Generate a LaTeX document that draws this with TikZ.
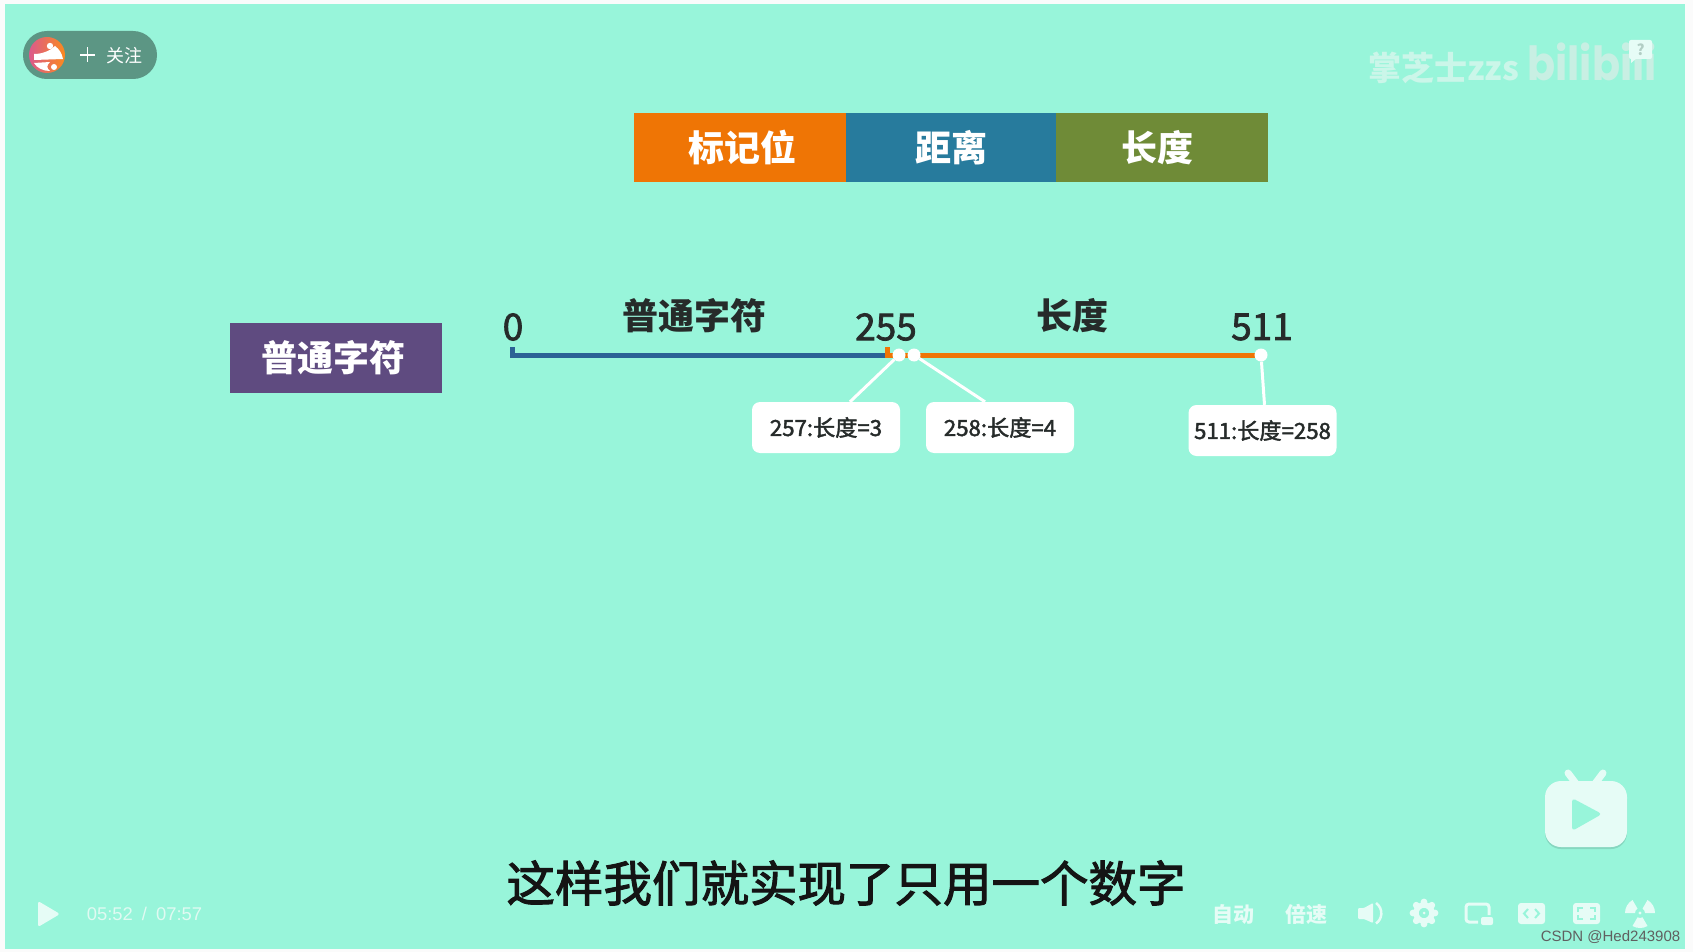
\documentclass[tikz,border=0pt]{standalone}
\usetikzlibrary{calc}
\usepackage{fontspec}
\setmainfont{Noto Sans CJK SC}
\newfontfamily\latinf{Liberation Sans}
\newfontfamily\popf{Poppins}
\newfontfamily\midf[FakeBold=2]{Noto Sans CJK SC}
\definecolor{mint}{HTML}{98F5DA}
\definecolor{paper}{HTML}{FBFBFB}
\definecolor{pale}{HTML}{E6FCF6}
\definecolor{wmark}{HTML}{CBF6E9}
\definecolor{logoc}{HTML}{C8EFE3}
\definecolor{inkc}{HTML}{262B2A}
\definecolor{orangec}{HTML}{EF7505}
\definecolor{bluec}{HTML}{277B9D}
\definecolor{greenc}{HTML}{6F8B37}
\definecolor{purplec}{HTML}{5F4B80}
\definecolor{lineblue}{HTML}{2B6295}
\definecolor{pillc}{HTML}{5C9684}
\definecolor{avl}{HTML}{DB5A8C}
\definecolor{avr}{HTML}{FB8A1E}
\newcommand{\fsz}[1]{\fontsize{#1}{#1}\selectfont}
\tikzset{
 band/.style={minimum height=69, inner sep=0, text=white, font=\fsz{36}\bfseries},
 heading/.style={inner sep=0, text=inkc, font=\fsz{36}\bfseries},
 numlab/.style={inner sep=0, text=inkc, font=\midf\fsz{37}},
 callout/.style={fill=white, rounded corners=8, minimum width=148, minimum height=51, inner sep=0, text=inkc, font=\midf\fsz{22.2}},
 dotn/.style={circle, fill=white, minimum size=13, inner sep=0},
 conn/.style={white, line width=3},
 ctl/.style={inner sep=0, text=pale, font=\fsz{21}\bfseries},
 icon/.style={fill=pale, draw=none}
}
\begin{document}
\begin{tikzpicture}[x=1pt,y=-1pt]
\useasboundingbox (0,0) rectangle (1693,952);
\fill[paper] (0,0) rectangle (1693,952);
\fill[mint] (5,4) rectangle (1685,949);
% follow pill
\fill[pillc,rounded corners=23.9] (23,31) rectangle (157,79);
\shade[left color=avl, right color=avr] (47,55) circle (18);
\fill[white] (34,54) .. controls (42,54) and (50,51) .. (55,46) .. controls (59,49) and (62,53) .. (63,59) -- (34,60) -- cycle;
\fill[white] (50,46) circle (3.2);
\fill[white] (34,63) -- (50,62) .. controls (47,65) and (46,68) .. (50,71) .. controls (43,71) and (37,68) .. (34,63) -- cycle;
\fill[white] (54,67) circle (3);
\draw[white,line width=1.6] (80,55) -- (95,55) (87.5,47.5) -- (87.5,62.5);
\node[inner sep=0,text=white,font=\fsz{18}] (follow) at (124,55.5) {关注};
% watermark
\node[inner sep=0,text=wmark,font=\fsz{33}\bfseries] (wm) at (1443.5,68) {掌芝士zzs};
\node[inner sep=0,text=logoc,font=\popf\fsz{47}\bfseries,xscale=.88] (bili) at (1592,62) {bilibili};
\fill[pale,rounded corners=2] (1629,40) rectangle (1652,59);
\fill[pale] (1631,58) -- (1631,63) -- (1637,58) -- cycle;
\node[inner sep=0,text=logoc!70!gray,font=\fsz{15}\bfseries] (qm) at (1640.5,50) {?};
% top band
\node[band,fill=orangec,minimum width=212] (b1) at (740,147.5) {\hspace{4pt}标记位};
\node[band,fill=bluec,minimum width=210] (b2) at (951,147.5) {距离};
\node[band,fill=greenc,minimum width=212] (b3) at (1162,147.5) {\hspace{-9pt}长度};
% purple
\node[band,fill=purplec,minimum width=212,minimum height=70] (pt) at (336,358) {\hspace{-4.5pt}普通字符};
% labels
\node[heading] (h1) at (694,316) {普通字符};
\node[heading] (h2) at (1072,316) {长度};
\node[numlab] (n0) at (513,327) {0};
\node[numlab] (n255) at (886,327) {255};
\node[numlab] (n511) at (1262,327) {511};
% timeline
\coordinate (t0) at (510,355.5);
\coordinate (t1) at (885,355.5);
\coordinate (t2) at (1261,355.5);
\fill[lineblue] (510,347) rectangle (515,355);
\draw[lineblue,line width=5] (t0) -- (t1);
\fill[orangec] (885,347) rectangle (890,355);
\draw[orangec,line width=5] (t1) -- (t2);
% callouts
\node[dotn] (d1) at (899,355) {};
\node[dotn] (d2) at (914,355) {};
\node[dotn] (d3) at (1261,355) {};
\node[callout] (c1) at (826,427.5) {257:长度=3};
\node[callout] (c2) at (1000,427.5) {258:长度=4};
\node[callout] (c3) at (1262.5,430.5) {511:长度=258};
\draw[conn] (d1) -- ([xshift=24]c1.north);
\draw[conn] (d2) -- ([xshift=-15]c2.north);
\draw[conn] (d3) -- ([xshift=2]c3.north);
% subtitle
\node[inner sep=0,text=black!92,font=\midf\fsz{48.5}] (sub) at (846,883) {这样我们就实现了只用一个数字};
% player left
\fill[pale,rounded corners=2.5] (38,901) -- (60,914) -- (38,927) -- cycle;
\node[inner sep=0,text=wmark!60!white,font=\latinf\fsz{18.4}] (time) at (144.5,914) {05:52\hspace{9pt}/\hspace{9pt}07:57};
% player right
\node[ctl] (auto) at (1233,914) {自动};
\node[ctl] (speed) at (1306,914) {倍速};
\fill[icon,rounded corners=1] (1358,908) -- (1364,908) -- (1373,903) -- (1373,923) -- (1364,919) -- (1358,919) -- cycle;
\draw[pale,line width=2.5] (1376,903) arc (-55:55:12.5);
\foreach \a in {0,45,...,315}{\fill[pale] (1424,913)++(\a:11) circle (3.4);}
\draw[pale,line width=5.5] (1424,913) circle (8);
\fill[pale] (1424,913) circle (1.5);
\draw[pale,line width=3,rounded corners=3] (1478,922) -- (1466,922) -- (1466,904) -- (1489,904) -- (1489,915);
\fill[pale,rounded corners=2] (1481,917) rectangle (1493,925);
\fill[pale,rounded corners=3] (1518,903) rectangle (1545,924);
\draw[mint,line width=2] (1528,909) -- (1524,913.5) -- (1528,918) (1535,909) -- (1539,913.5) -- (1535,918);
\fill[pale,rounded corners=3] (1573,903) rectangle (1600,924);
\draw[mint,line width=2] (1578,912) -- (1578,908) -- (1583,908) (1590,908) -- (1595,908) -- (1595,912) (1595,915) -- (1595,919) -- (1590,919) (1583,919) -- (1578,919) -- (1578,915);
\foreach \a in {90,-30,210}{\fill[pale] ($(1640,913)+(\a-30:5)$) arc[start angle=\a-30,end angle=\a+30,radius=5] -- ($(1640,913)+(\a+30:15)$) arc[start angle=\a+30,end angle=\a-30,radius=15] -- cycle;}
\fill[pale] (1640,913) circle (1.6);
% csdn
\node[inner sep=0,text=gray!75!black,font=\latinf\fsz{15}] (csdn) at (1610.5,937) {CSDN @Hed243908};
% tv
\draw[pale,line width=7,line cap=round] (1568,773) -- (1577,785) (1603,773) -- (1594,785);
\fill[black!12!mint,rounded corners=16] (1545,783) rectangle (1627,849);
\fill[pale,rounded corners=16] (1545,781) rectangle (1627,847);
\fill[mint,rounded corners=3.5] (1572,798) -- (1602,814) -- (1572,831) -- cycle;
\end{tikzpicture}
\end{document}
